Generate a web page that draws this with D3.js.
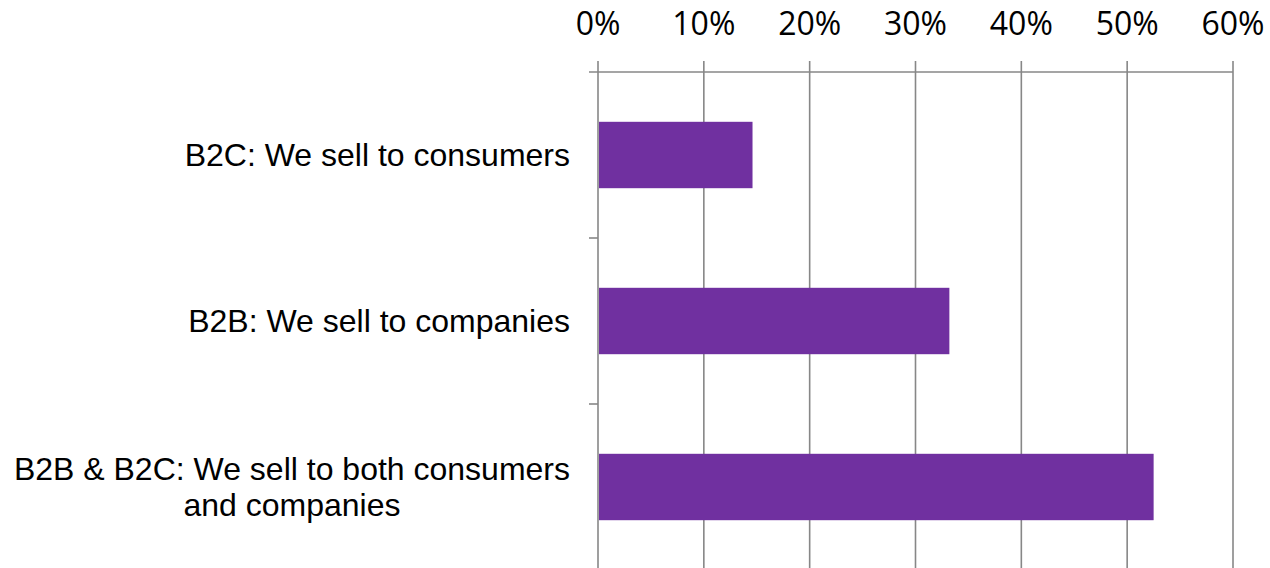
<!DOCTYPE html>
<html><head><meta charset="utf-8">
<script src="https://cdn.jsdelivr.net/npm/d3@7"></script>
<style>body{margin:0;background:#fff}svg{display:block}</style>
</head><body>
<svg id="c" width="1270" height="568"></svg>
<script>
const categories = ["B2C: We sell to consumers", "B2B: We sell to companies", "B2B & B2C: We sell to both consumers and companies"];
const labelLines = [["B2C: We sell to consumers"], ["B2B: We sell to companies"], ["B2B & B2C: We sell to both consumers", "and companies"]];
const values = [14.6, 33.2, 52.5];
const tickValues = [0, 10, 20, 30, 40, 50, 60];

const svg = d3.select("#c");
const mLeft = 598, mRight = 1233, mTop = 72, mBottom = 570;
const x = d3.scaleLinear().domain([0, 60]).range([mLeft, mRight]);
const y = d3.scaleBand().domain(categories).range([mTop, mBottom]).paddingInner(0.6).paddingOuter(0.3);
const grid = "#878787";

svg.append("g").selectAll("line").data(tickValues).join("line")
  .attr("x1", d => x(d)).attr("x2", d => x(d))
  .attr("y1", mTop - 11).attr("y2", 568)
  .attr("stroke", grid).attr("stroke-width", 1.6);
svg.append("line").attr("x1", mLeft - 9).attr("x2", mRight).attr("y1", mTop).attr("y2", mTop)
  .attr("stroke", grid).attr("stroke-width", 1.6);
svg.append("g").selectAll("text").data(tickValues).join("text")
  .attr("x", d => x(d)).attr("y", 35).attr("text-anchor", "middle")
  .attr("font-family", "'Open Sans', sans-serif").attr("font-size", 32).attr("fill", "#000")
  .text(d => d + "%");

const step = y.step();
svg.append("g").selectAll("line").data(categories.slice(0, -1)).join("line")
  .attr("x1", mLeft - 9).attr("x2", mLeft)
  .attr("y1", d => y(d) + y.bandwidth() + (step - y.bandwidth()) / 2)
  .attr("y2", d => y(d) + y.bandwidth() + (step - y.bandwidth()) / 2)
  .attr("stroke", grid).attr("stroke-width", 1.6);

svg.append("g").selectAll("rect").data(categories).join("rect")
  .attr("x", x(0) + 1).attr("y", d => y(d))
  .attr("width", (d, i) => x(values[i]) - x(0) - 1).attr("height", y.bandwidth())
  .attr("fill", "#7030A0");

const lab = svg.append("g").selectAll("text").data(categories).join("text")
  .attr("font-family", "Arial, 'Liberation Sans', sans-serif").attr("font-size", 32).attr("fill", "#000")
  .attr("text-anchor", "middle");
lab.each(function(d, i) {
  const lines = labelLines[i];
  const lh = 36;
  const cy = y(d) + y.bandwidth() / 2;
  const t = d3.select(this);
  lines.forEach((ln, j) => {
    t.append("tspan").text(ln).attr("y", cy + (j - (lines.length - 1) / 2) * lh + 11);
  });
  const tsp = t.selectAll("tspan").nodes();
  const maxW = d3.max(tsp, n => n.getComputedTextLength());
  const cx = 570 - maxW / 2;
  t.selectAll("tspan").attr("x", cx);
});
</script>
</body></html>
